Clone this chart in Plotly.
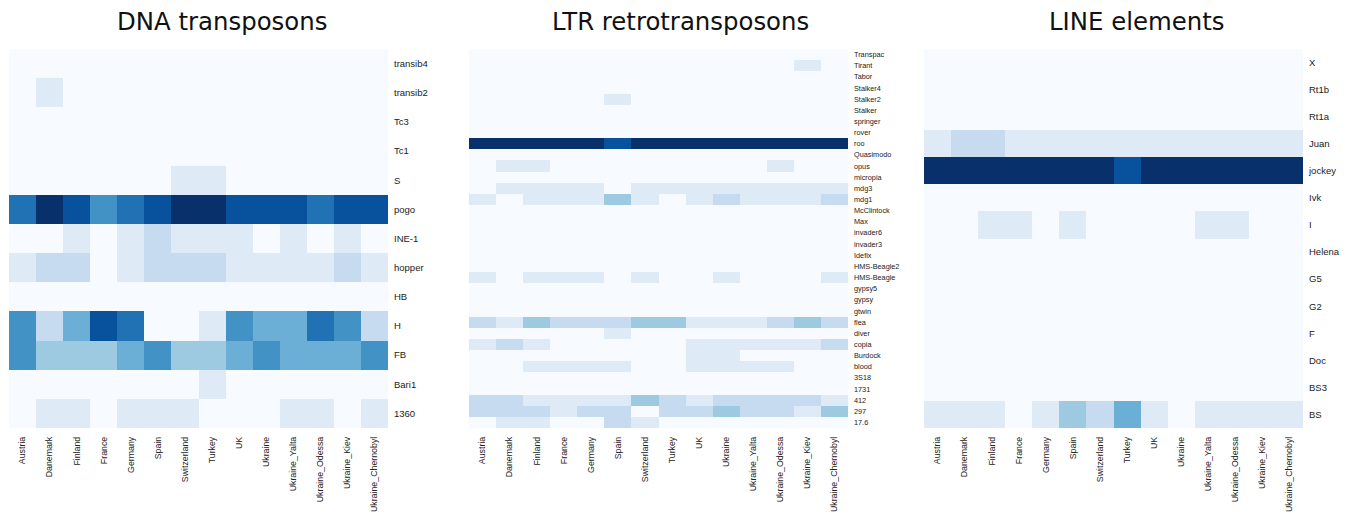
import plotly.graph_objects as go

countries = ["Austria", "Danemark", "Finland", "France", "Germany", "Spain", "Switzerland",
             "Turkey", "UK", "Ukraine", "Ukraine_Yalta", "Ukraine_Odessa", "Ukraine_Kiev",
             "Ukraine_Chernobyl"]

# colour levels 0..8 (Blues)
dna_rows = ["transib4", "transib2", "Tc3", "Tc1", "S", "pogo", "INE-1", "hopper", "HB",
            "H", "FB", "Bari1", "1360"]
dna_vals = [
    [0,0,0,0,0,0,0,0,0,0,0,0,0,0],
    [0,1,0,0,0,0,0,0,0,0,0,0,0,0],
    [0,0,0,0,0,0,0,0,0,0,0,0,0,0],
    [0,0,0,0,0,0,0,0,0,0,0,0,0,0],
    [0,0,0,0,0,0,1,1,0,0,0,0,0,0],
    [6,8,7,5,6,7,8,8,7,7,7,6,7,7],
    [0,0,1,0,1,2,1,1,1,0,1,0,1,0],
    [1,2,2,0,1,2,2,2,1,1,1,1,2,1],
    [0,0,0,0,0,0,0,0,0,0,0,0,0,0],
    [5,2,4,7,6,0,0,1,5,4,4,6,5,2],
    [5,3,3,3,4,5,3,3,4,5,4,4,4,5],
    [0,0,0,0,0,0,0,1,0,0,0,0,0,0],
    [0,1,1,0,1,1,1,0,0,0,1,1,0,1],
]

ltr_rows = ["Transpac", "Tirant", "Tabor", "Stalker4", "Stalker2", "Stalker", "springer",
            "rover", "roo", "Quasimodo", "opus", "micropia", "mdg3", "mdg1", "McClintock",
            "Max", "invader6", "invader3", "Idefix", "HMS-Beagle2", "HMS-Beagle", "gypsy5",
            "gypsy", "gtwin", "flea", "diver", "copia", "Burdock", "blood", "3S18", "1731",
            "412", "297", "17.6"]
ltr_vals = [
    [0,0,0,0,0,0,0,0,0,0,0,0,0,0],  # Transpac
    [0,0,0,0,0,0,0,0,0,0,0,0,1,0],  # Tirant
    [0,0,0,0,0,0,0,0,0,0,0,0,0,0],  # Tabor
    [0,0,0,0,0,0,0,0,0,0,0,0,0,0],  # Stalker4
    [0,0,0,0,0,1,0,0,0,0,0,0,0,0],  # Stalker2
    [0,0,0,0,0,0,0,0,0,0,0,0,0,0],  # Stalker
    [0,0,0,0,0,0,0,0,0,0,0,0,0,0],  # springer
    [0,0,0,0,0,0,0,0,0,0,0,0,0,0],  # rover
    [8,8,8,8,8,7,8,8,8,8,8,8,8,8],  # roo
    [0,0,0,0,0,0,0,0,0,0,0,0,0,0],  # Quasimodo
    [0,1,1,0,0,0,0,0,0,0,0,1,0,0],  # opus
    [0,0,0,0,0,0,0,0,0,0,0,0,0,0],  # micropia
    [0,1,1,1,1,0,1,1,1,1,1,1,1,1],  # mdg3
    [1,0,1,1,1,3,1,0,1,2,1,1,1,2],  # mdg1
    [0,0,0,0,0,0,0,0,0,0,0,0,0,0],  # McClintock
    [0,0,0,0,0,0,0,0,0,0,0,0,0,0],  # Max
    [0,0,0,0,0,0,0,0,0,0,0,0,0,0],  # invader6
    [0,0,0,0,0,0,0,0,0,0,0,0,0,0],  # invader3
    [0,0,0,0,0,0,0,0,0,0,0,0,0,0],  # Idefix
    [0,0,0,0,0,0,0,0,0,0,0,0,0,0],  # HMS-Beagle2
    [1,0,1,1,1,0,1,0,0,1,0,0,0,1],  # HMS-Beagle
    [0,0,0,0,0,0,0,0,0,0,0,0,0,0],  # gypsy5
    [0,0,0,0,0,0,0,0,0,0,0,0,0,0],  # gypsy
    [0,0,0,0,0,0,0,0,0,0,0,0,0,0],  # gtwin
    [2,1,3,2,2,2,3,3,1,1,1,2,3,2],  # flea
    [0,0,0,0,0,1,0,0,0,0,0,0,0,0],  # diver
    [1,2,1,0,0,0,0,0,1,1,1,1,1,2],  # copia
    [0,0,0,0,0,0,0,0,1,1,0,0,0,0],  # Burdock
    [0,0,1,1,1,1,0,0,1,1,1,1,0,0],  # blood
    [0,0,0,0,0,0,0,0,0,0,0,0,0,0],  # 3S18
    [0,0,0,0,0,0,0,0,0,0,0,0,0,0],  # 1731
    [2,2,1,1,1,1,3,2,1,2,2,2,2,1],  # 412
    [2,2,2,1,2,2,0,2,2,3,2,2,1,3],  # 297
    [0,1,1,0,0,2,1,0,0,0,0,0,0,0],  # 17.6
]

line_rows = ["X", "Rt1b", "Rt1a", "Juan", "jockey", "Ivk", "I", "Helena", "G5", "G2", "F",
             "Doc", "BS3", "BS"]
line_vals = [
    [0,0,0,0,0,0,0,0,0,0,0,0,0,0],
    [0,0,0,0,0,0,0,0,0,0,0,0,0,0],
    [0,0,0,0,0,0,0,0,0,0,0,0,0,0],
    [1,2,2,1,1,1,1,1,1,1,1,1,1,1],
    [8,8,8,8,8,8,8,7,8,8,8,8,8,8],
    [0,0,0,0,0,0,0,0,0,0,0,0,0,0],
    [0,0,1,1,0,1,0,0,0,0,1,1,0,0],
    [0,0,0,0,0,0,0,0,0,0,0,0,0,0],
    [0,0,0,0,0,0,0,0,0,0,0,0,0,0],
    [0,0,0,0,0,0,0,0,0,0,0,0,0,0],
    [0,0,0,0,0,0,0,0,0,0,0,0,0,0],
    [0,0,0,0,0,0,0,0,0,0,0,0,0,0],
    [0,0,0,0,0,0,0,0,0,0,0,0,0,0],
    [1,1,1,0,1,3,2,4,1,0,1,1,1,1],
]

titles = ["DNA transposons", "LTR retrotransposons", "LINE elements"]
blues = ["#f7fbff", "#deebf7", "#c6dbef", "#9ecae1", "#6baed6", "#4292c6", "#2171b5",
         "#08519c", "#08306b"]
colorscale = [[i / 8, c] for i, c in enumerate(blues)]

W, H = 1353, 515
OFF = 8  # page body margin in the browser
panels = [
    (dna_rows, dna_vals, 9, 388, 9.5, 222),
    (ltr_rows, ltr_vals, 469, 848, 7.3, 680),
    (line_rows, line_vals, 924, 1303, 9.5, 1136),
]
top, bottom = 49, 428

fig = go.Figure()
for i, (rows, vals, x0, x1, yfs, tx) in enumerate(panels):
    sfx = "" if i == 0 else str(i + 1)
    fig.add_trace(go.Heatmap(
        z=vals, x=countries, y=rows, colorscale=colorscale, zmin=0, zmax=8,
        showscale=False, xaxis="x" + sfx, yaxis="y" + sfx, xgap=0, ygap=0,
    ))
    fig.update_layout(**{
        "xaxis" + sfx: dict(domain=[(x0 - OFF) / W, (x1 - OFF) / W], anchor="y" + sfx,
                            tickangle=-90, showgrid=False, zeroline=False, showline=False,
                            ticks="", automargin=False,
                            tickfont=dict(family="Liberation Sans", size=8.8, color="#222"),
                            ticklabelstandoff=6),
        "yaxis" + sfx: dict(domain=[1 - (bottom - OFF) / H, 1 - (top - OFF) / H],
                            anchor="x" + sfx, side="right", autorange="reversed",
                            showgrid=False, zeroline=False, showline=False, ticks="",
                            automargin=False,
                            tickfont=dict(family="Liberation Sans", size=yfs, color="#222"),
                            ticklabelstandoff=5),
    })
    fig.add_annotation(text=titles[i], x=(tx - OFF) / W, y=1 - (21 - OFF) / H,
                       xref="paper", yref="paper",
                       showarrow=False, xanchor="center", yanchor="middle",
                       font=dict(family="DejaVu Sans", size=24.4, color="#111"))

fig.update_layout(width=W, height=H, margin=dict(l=0, r=0, t=0, b=0, autoexpand=False),
                  paper_bgcolor="white", plot_bgcolor="white")
fig.write_html("out.html")
